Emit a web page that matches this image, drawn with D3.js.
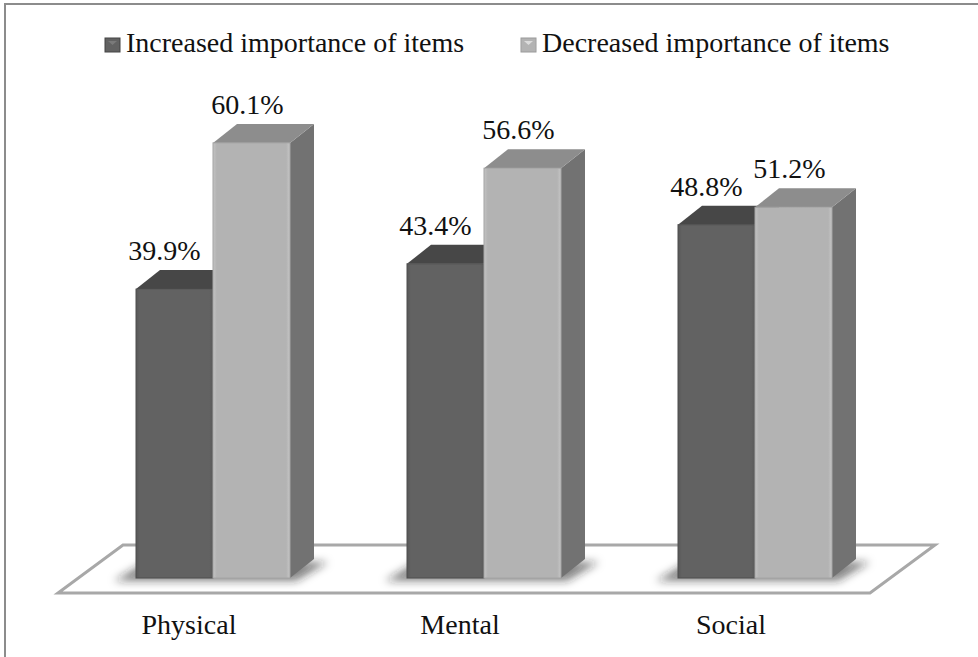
<!DOCTYPE html>
<html>
<head>
<meta charset="utf-8">
<script src="https://cdn.jsdelivr.net/npm/d3@7"></script>
<style>
  html, body { margin: 0; padding: 0; background: #fff; }
  svg { display: block; }
  text { font-family: "Liberation Serif", "Times New Roman", serif; fill: #111; }
</style>
</head>
<body>
<svg id="chart" width="978" height="657"></svg>
<script>
// Share of items whose importance changed, by domain
const categories = ["Physical", "Mental", "Social"];
const seriesNames = ["Increased importance of items", "Decreased importance of items"];
const increased = [39.9, 43.4, 48.8];
const decreased = [60.1, 56.6, 51.2];

const W = 978, H = 657;
const svg = d3.select("#chart");
const defs = svg.append("defs");

// 3D extrusion of each column (right, up)
const DX = 24, DY = 19;
const baseY = 578;

const y = d3.scaleLinear().domain([0, 70]).range([baseY, baseY - 70 * 7.24]);
const x = d3.scaleBand().domain(categories).range([77.5, 890.5]).padding(0);
const inner = d3.scaleBand().domain(seriesNames).range([-77, 77]).padding(0);

const palette = {
  [seriesNames[0]]: { front: ["#575757", "#626262", "#626262", "#5a5a5a"], top: "#474747", side: "#505050" },
  [seriesNames[1]]: { front: ["#c3c3c3", "#b3b3b3", "#b3b3b3", "#c6c6c6"], top: "#8d8d8d", side: "#727272" }
};

seriesNames.forEach((s, i) => {
  const g = defs.append("linearGradient").attr("id", "front" + i)
    .attr("x1", 0).attr("x2", 1).attr("y1", 0).attr("y2", 0);
  const c = palette[s].front;
  [[0, c[0]], [0.05, c[1]], [0.95, c[2]], [1, c[3]]].forEach(([o, col]) =>
    g.append("stop").attr("offset", o).attr("stop-color", col));
});

defs.append("filter").attr("id", "soft").attr("x", "-20%").attr("y", "-100%")
  .attr("width", "140%").attr("height", "300%")
  .append("feGaussianBlur").attr("stdDeviation", 4);

// frame
svg.append("rect").attr("x", 5).attr("y", 4).attr("width", W + 20).attr("height", H + 20)
  .attr("fill", "none").attr("stroke", "#8c8c8c").attr("stroke-width", 2);

// legend
const legendItems = [
  { name: seriesNames[0], mx: 105, tx: 126 },
  { name: seriesNames[1], mx: 521, tx: 542 }
];
const leg = svg.append("g");
legendItems.forEach((d, i) => {
  leg.append("rect").attr("x", d.mx).attr("y", 38).attr("width", 15).attr("height", 14)
    .attr("fill", `url(#front${i})`).attr("stroke", i ? "#9a9a9a" : "#444").attr("stroke-width", 1);
  leg.append("path")
    .attr("d", `M${d.mx + 3},${41} L${d.mx + 12},${41} L${d.mx + 7.5},${45} Z`)
    .attr("fill", i ? "#dcdcdc" : "#7a7a7a");
  leg.append("text").attr("x", d.tx).attr("y", 52).attr("font-size", 28).text(d.name);
});

// floor
const floorBackY = 545, floorFrontY = 593;
const floor = [[123, floorBackY], [935, floorBackY], [870, floorFrontY], [58, floorFrontY]];
svg.append("path").attr("d", d3.line()(floor) + "Z")
  .attr("fill", "#fff").attr("stroke", "#a8a8a8").attr("stroke-width", 3)
  .attr("stroke-linejoin", "miter");

// soft shadows beneath each pair of columns
const shadows = svg.append("g").attr("filter", "url(#soft)");
categories.forEach(c => {
  const xl = x(c) + x.bandwidth() / 2 + inner(seriesNames[0]);
  const xr = x(c) + x.bandwidth() / 2 + inner(seriesNames[1]) + inner.bandwidth();
  shadows.append("path")
    .attr("d", d3.line()([[xl - 22, baseY + 3], [xr + 6, baseY + 3], [xr + DX + 14, baseY - DY + 3], [xl + DX - 14, baseY - DY + 3]]) + "Z")
    .attr("fill", "#222").attr("opacity", 0.55);
});

// columns
const rows = [];
categories.forEach((c, ci) => {
  rows.push({ cat: c, s: seriesNames[0], si: 0, v: increased[ci] });
  rows.push({ cat: c, s: seriesNames[1], si: 1, v: decreased[ci] });
});

const bars = svg.append("g").selectAll("g").data(rows).join("g");
bars.each(function(d) {
  const g = d3.select(this);
  const x0 = x(d.cat) + x.bandwidth() / 2 + inner(d.s);
  const w = inner.bandwidth();
  const yt = y(d.v);
  const p = palette[d.s];
  g.append("path")
    .attr("d", d3.line()([[x0 + w, yt], [x0 + w + DX, yt - DY], [x0 + w + DX, baseY - DY], [x0 + w, baseY]]) + "Z")
    .attr("fill", p.side);
  g.append("path")
    .attr("d", d3.line()([[x0, yt], [x0 + DX, yt - DY], [x0 + w + DX, yt - DY], [x0 + w, yt]]) + "Z")
    .attr("fill", p.top);
  g.append("rect").attr("x", x0).attr("y", yt).attr("width", w).attr("height", baseY - yt)
    .attr("fill", `url(#front${d.si})`)
    .attr("stroke", d.si ? "#a4a4a4" : "#4e4e4e").attr("stroke-width", 1);
});

// value labels
const labelShift = [-10, -4];
svg.append("g").selectAll("text").data(rows).join("text")
  .attr("x", d => x(d.cat) + x.bandwidth() / 2 + inner(d.s) + inner.bandwidth() / 2 + labelShift[d.si])
  .attr("y", d => y(d.v) - 29)
  .attr("text-anchor", "middle").attr("font-size", 28)
  .text(d => d.v.toFixed(1) + "%");

// category labels on the front edge of the floor
svg.append("g").selectAll("text").data(categories).join("text")
  .attr("x", c => x(c) + x.bandwidth() / 2 - 24)
  .attr("y", 634)
  .attr("text-anchor", "middle").attr("font-size", 28)
  .text(c => c);
</script>
</body>
</html>
